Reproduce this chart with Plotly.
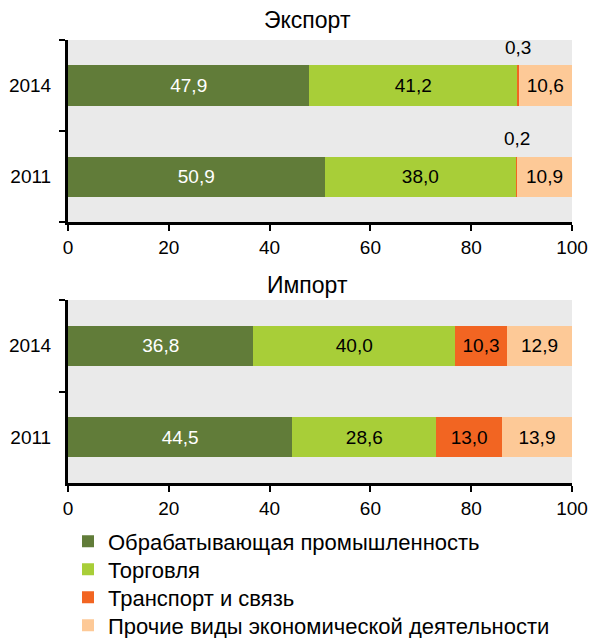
import plotly.graph_objects as go

# Structure of exports and imports by kind of economic activity, % of total
years = ["2011", "2014"]
sectors = [
    "Обрабатывающая промышленность",
    "Торговля",
    "Транспорт и связь",
    "Прочие виды экономической деятельности",
]
colors = ["#617C39", "#A8CE38", "#F26522", "#FDC997"]
text_colors = ["white", "black", "black", "black"]

export_manufacturing = [50.9, 47.9]
export_trade = [38.0, 41.2]
export_transport = [0.2, 0.3]
export_other = [10.9, 10.6]

import_manufacturing = [44.5, 36.8]
import_trade = [28.6, 40.0]
import_transport = [13.0, 10.3]
import_other = [13.9, 12.9]

x_ticks = [0, 20, 40, 60, 80, 100]
panel_titles = ["Экспорт", "Импорт"]

export_series = [export_manufacturing, export_trade, export_transport, export_other]
import_series = [import_manufacturing, import_trade, import_transport, import_other]

FONT = "Liberation Sans, Arial, sans-serif"
LEGEND_IDS = ["legend", "legend2", "legend3", "legend4"]


def fmt(v):
    return f"{v:.1f}".replace(".", ",")


fig = go.Figure()


def add_panel(series, xa, ya, show_legend, label_transport_inside):
    for i, vals in enumerate(series):
        labels = [fmt(v) for v in vals]
        if i == 2 and not label_transport_inside:
            labels = ["" for _ in vals]
        fig.add_trace(go.Bar(
            y=years, x=vals, orientation="h", name=sectors[i],
            marker=dict(color=colors[i], line=dict(width=0)),
            text=labels, textposition="inside", insidetextanchor="middle",
            textangle=0, constraintext="none",
            textfont=dict(family=FONT, size=19, color=text_colors[i]),
            xaxis=xa, yaxis=ya, showlegend=show_legend,
            legend=LEGEND_IDS[i], hoverinfo="x+name",
        ))


add_panel(export_series, "x", "y", True, False)
add_panel(import_series, "x2", "y2", False, True)

# Thin transport slices in the export panel get their labels above the bar
for j in range(len(years)):
    left = export_manufacturing[j] + export_trade[j]
    fig.add_annotation(
        x=left + export_transport[j] / 2, y=j, xref="x", yref="y",
        text=fmt(export_transport[j]),
        showarrow=False, yshift=38,
        font=dict(family=FONT, size=19, color="black"),
    )

for title, yref, shift in [(panel_titles[0], "y domain", 5), (panel_titles[1], "y2 domain", 0)]:
    fig.add_annotation(
        text=title, xref="x domain", yref=yref, x=0.476, y=1.0,
        yanchor="bottom", yshift=shift,
        showarrow=False, font=dict(family=FONT, size=23, color="black"),
    )

axis_x = dict(
    range=[0, 100], tickvals=x_ticks, ticks="outside", ticklen=6, tickwidth=2,
    tickcolor="black", showline=True, linecolor="black", linewidth=3,
    showgrid=False, zeroline=False, fixedrange=True,
    tickfont=dict(family=FONT, size=19, color="black"),
)
axis_y = dict(
    type="category", categoryorder="array", categoryarray=years,
    range=[-0.5, 1.5],
    tickson="boundaries", ticks="outside", ticklen=6, tickwidth=2,
    ticklabelstandoff=10,
    tickcolor="black", showline=True, linecolor="black", linewidth=3,
    showgrid=False, zeroline=False, fixedrange=True,
    tickfont=dict(family=FONT, size=19, color="black"),
)

# One legend per sector so the rows can be spaced evenly
legend_top = -0.0846
legend_step = 0.0632
legends = {}
for k, lid in enumerate(LEGEND_IDS):
    legends[lid] = dict(
        x=0.0, y=legend_top - k * legend_step, xanchor="left", yanchor="top",
        orientation="v",
        font=dict(family=FONT, size=22, color="black"),
        bgcolor="rgba(0,0,0,0)", itemclick=False, itemdoubleclick=False,
    )

fig.update_layout(
    width=589, height=638,
    margin=dict(l=68, r=17, t=40, b=155, autoexpand=False),
    paper_bgcolor="white", plot_bgcolor="#EAEAEA",
    barmode="stack", bargap=0.56,
    separators=", ",
    font=dict(family=FONT, size=19, color="black"),
    xaxis=dict(axis_x, domain=[0, 1], anchor="y"),
    yaxis=dict(axis_y, domain=[0.589, 1], anchor="x"),
    xaxis2=dict(axis_x, domain=[0, 1], anchor="y2"),
    yaxis2=dict(axis_y, domain=[0, 0.413], anchor="x2"),
    **legends,
)

fig.write_html("out.html")
